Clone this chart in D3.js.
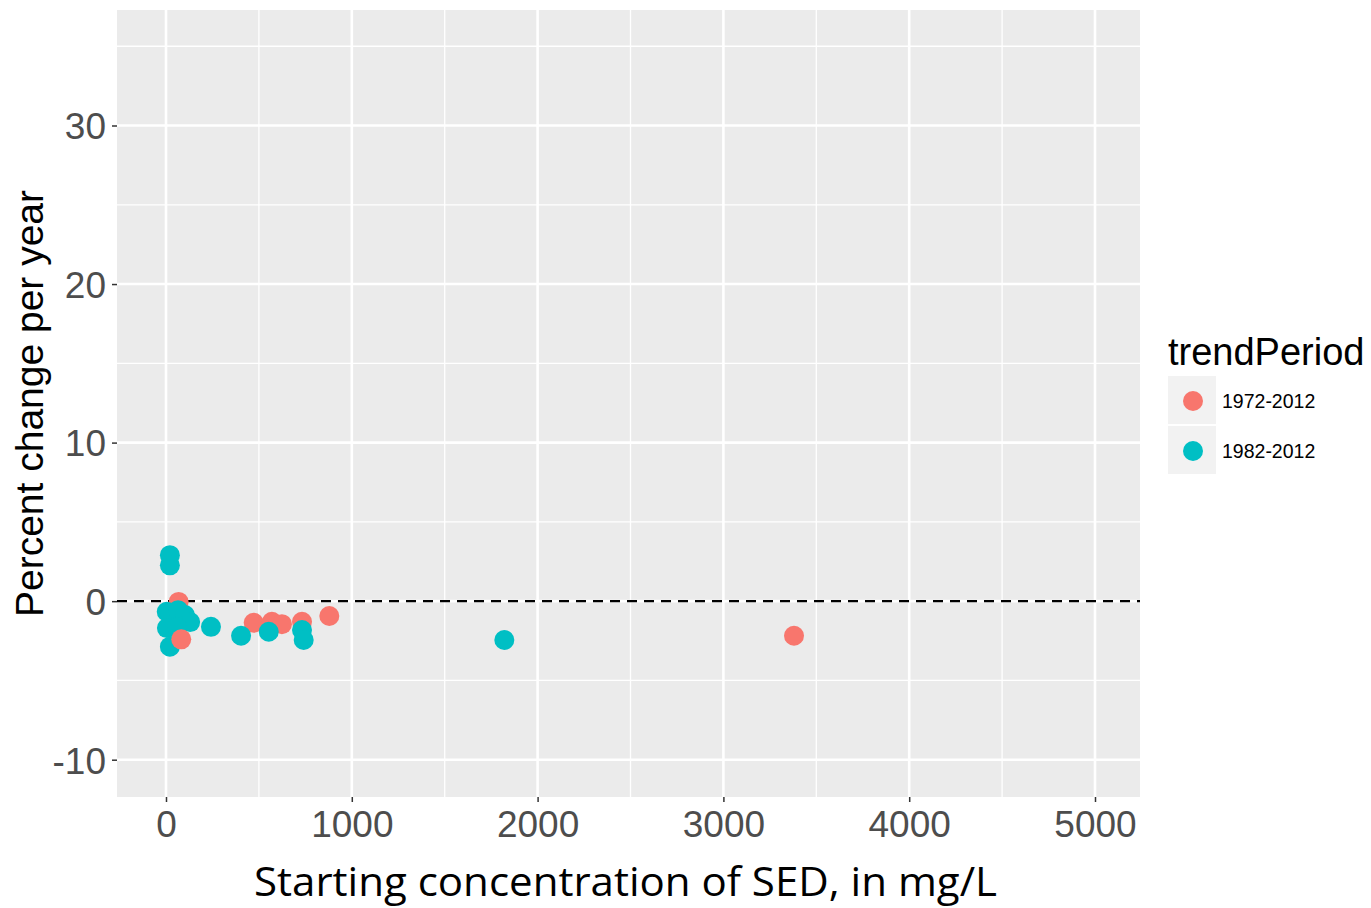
<!DOCTYPE html>
<html>
<head>
<meta charset="utf-8">
<script src="https://cdn.jsdelivr.net/npm/d3@7"></script>
<style>
  html, body { margin: 0; padding: 0; background: #fff; }
  svg { display: block; }
</style>
</head>
<body>
<svg id="chart" width="1371" height="908"></svg>
<script>
// ─── Data ────────────────────────────────────────────────────────────────────
const periods = ['1972-2012', '1982-2012'];
const periodColors = ['#F8766D', '#00BFC4'];

// 1972-2012 sites
const sed1972 = [68, 472, 570, 624, 732, 879, 3380, 82];
const pct1972 = [-0.05, -1.36, -1.30, -1.45, -1.30, -0.94, -2.18, -2.41];

// 1982-2012 sites
const sed1982 = [21, 21, 4, 65, 102, 130, 5, 60, 21, 242, 404, 553, 732, 741, 1821];
const pct1982 = [2.90, 2.26, -0.67, -0.57, -0.88, -1.32, -1.70, -1.64, -2.87, -1.62, -2.18, -1.93, -1.82, -2.45, -2.45];

const xMajor = [0, 1000, 2000, 3000, 4000, 5000];
const xMinor = [500, 1500, 2500, 3500, 4500];
const yMajor = [-10, 0, 10, 20, 30];
const yMinor = [-5, 5, 15, 25, 35];

// ─── Layout ──────────────────────────────────────────────────────────────────
const PANEL = { x0: 117, x1: 1140, y0: 10, y1: 797 };
const FONT = '"Liberation Sans", Arial, sans-serif';
const R = 10;

const x = d3.scaleLinear().domain([0, 5000]).range([166, 1095]);
const y = d3.scaleLinear().domain([-10, 30]).range([759.7, 125.5]);

const svg = d3.select('#chart');

// panel background
svg.append('rect')
  .attr('x', PANEL.x0).attr('y', PANEL.y0)
  .attr('width', PANEL.x1 - PANEL.x0).attr('height', PANEL.y1 - PANEL.y0)
  .attr('fill', '#EBEBEB');

// ── Grid ─────────────────────────────────────────────────────────────────────
const grid = svg.append('g').attr('stroke', '#fff');
grid.selectAll('.xmin').data(xMinor).join('line')
  .attr('x1', d => x(d)).attr('x2', d => x(d))
  .attr('y1', PANEL.y0).attr('y2', PANEL.y1).attr('stroke-width', 1.3);
grid.selectAll('.ymin').data(yMinor).join('line')
  .attr('y1', d => y(d)).attr('y2', d => y(d))
  .attr('x1', PANEL.x0).attr('x2', PANEL.x1).attr('stroke-width', 1.3);
grid.selectAll('.xmaj').data(xMajor).join('line')
  .attr('x1', d => x(d)).attr('x2', d => x(d))
  .attr('y1', PANEL.y0).attr('y2', PANEL.y1).attr('stroke-width', 2.6);
grid.selectAll('.ymaj').data(yMajor).join('line')
  .attr('y1', d => y(d)).attr('y2', d => y(d))
  .attr('x1', PANEL.x0).attr('x2', PANEL.x1).attr('stroke-width', 2.6);

// zero reference line
svg.append('line')
  .attr('x1', PANEL.x0).attr('x2', PANEL.x1)
  .attr('y1', y(0)).attr('y2', y(0))
  .attr('stroke', '#000').attr('stroke-width', 2.4)
  .attr('stroke-dasharray', '10,7');

// ── Points ───────────────────────────────────────────────────────────────────
const points = [
  ...sed1972.map((v, i) => ({ x: v, y: pct1972[i], s: 0 })),
  ...sed1982.map((v, i) => ({ x: v, y: pct1982[i], s: 1 })),
];

const dots = svg.append('g')
  .selectAll('circle')
  .data(points)
  .join('circle')
  .attr('cx', d => x(d.x))
  .attr('cy', d => y(d.y))
  .attr('r', R)
  .attr('fill', d => periodColors[d.s]);

// the low red point near the origin sits on top of the teal cluster
dots.filter(d => d.s === 0 && d.x < 100 && d.y < -2).raise();

// ── Axes ─────────────────────────────────────────────────────────────────────
const plain = d => String(d);   // hyphen-minus, like the original
const xAxis = svg.append('g')
  .attr('transform', `translate(0,${PANEL.y1})`)
  .call(d3.axisBottom(x).tickValues(xMajor).tickSize(5).tickPadding(8).tickFormat(plain));
const yAxis = svg.append('g')
  .attr('transform', `translate(${PANEL.x0},0)`)
  .call(d3.axisLeft(y).tickValues(yMajor).tickSize(5).tickPadding(6).tickFormat(plain));

[xAxis, yAxis].forEach(g => {
  g.select('.domain').remove();
  g.selectAll('.tick line').attr('stroke', '#333').attr('stroke-width', 1.5);
  g.selectAll('.tick text')
    .attr('fill', '#4D4D4D')
    .style('font-family', FONT)
    .style('font-size', '37px');
});
yAxis.selectAll('.tick text').attr('dy', '0.36em');
xAxis.selectAll('.tick text').attr('dy', '0.74em');

// axis titles
svg.append('text')
  .attr('transform', `translate(43,${(PANEL.y0 + PANEL.y1) / 2}) rotate(-90)`)
  .attr('text-anchor', 'middle')
  .style('font-family', FONT)
  .style('font-size', '39px')
  .attr('fill', '#000')
  .text('Percent change per year');

svg.append('text')
  .attr('x', 254).attr('y', 896)
  .attr('textLength', 743).attr('lengthAdjust', 'spacingAndGlyphs')
  .style('font-family', '"Open Sans", sans-serif')
  .style('font-size', '40px')
  .attr('fill', '#000')
  .text('Starting concentration of SED, in mg/L');

// ── Legend ───────────────────────────────────────────────────────────────────
const legend = svg.append('g').attr('transform', 'translate(1168,0)');
legend.append('text')
  .attr('x', 0).attr('y', 365)
  .style('font-family', FONT)
  .style('font-size', '38px')
  .attr('fill', '#000')
  .text('trendPeriod');

const key = legend.selectAll('g.key')
  .data(periods)
  .join('g')
  .attr('transform', (d, i) => `translate(0,${376 + i * 50})`);
key.append('rect')
  .attr('width', 48).attr('height', 48)
  .attr('fill', '#F2F2F2');
key.append('circle')
  .attr('cx', 25).attr('cy', 25).attr('r', R)
  .attr('fill', (d, i) => periodColors[i]);
key.append('text')
  .attr('x', 54).attr('y', 25).attr('dy', '0.36em')
  .style('font-family', FONT)
  .style('font-size', '19.5px')
  .attr('fill', '#000')
  .text(d => d);
</script>
</body>
</html>
